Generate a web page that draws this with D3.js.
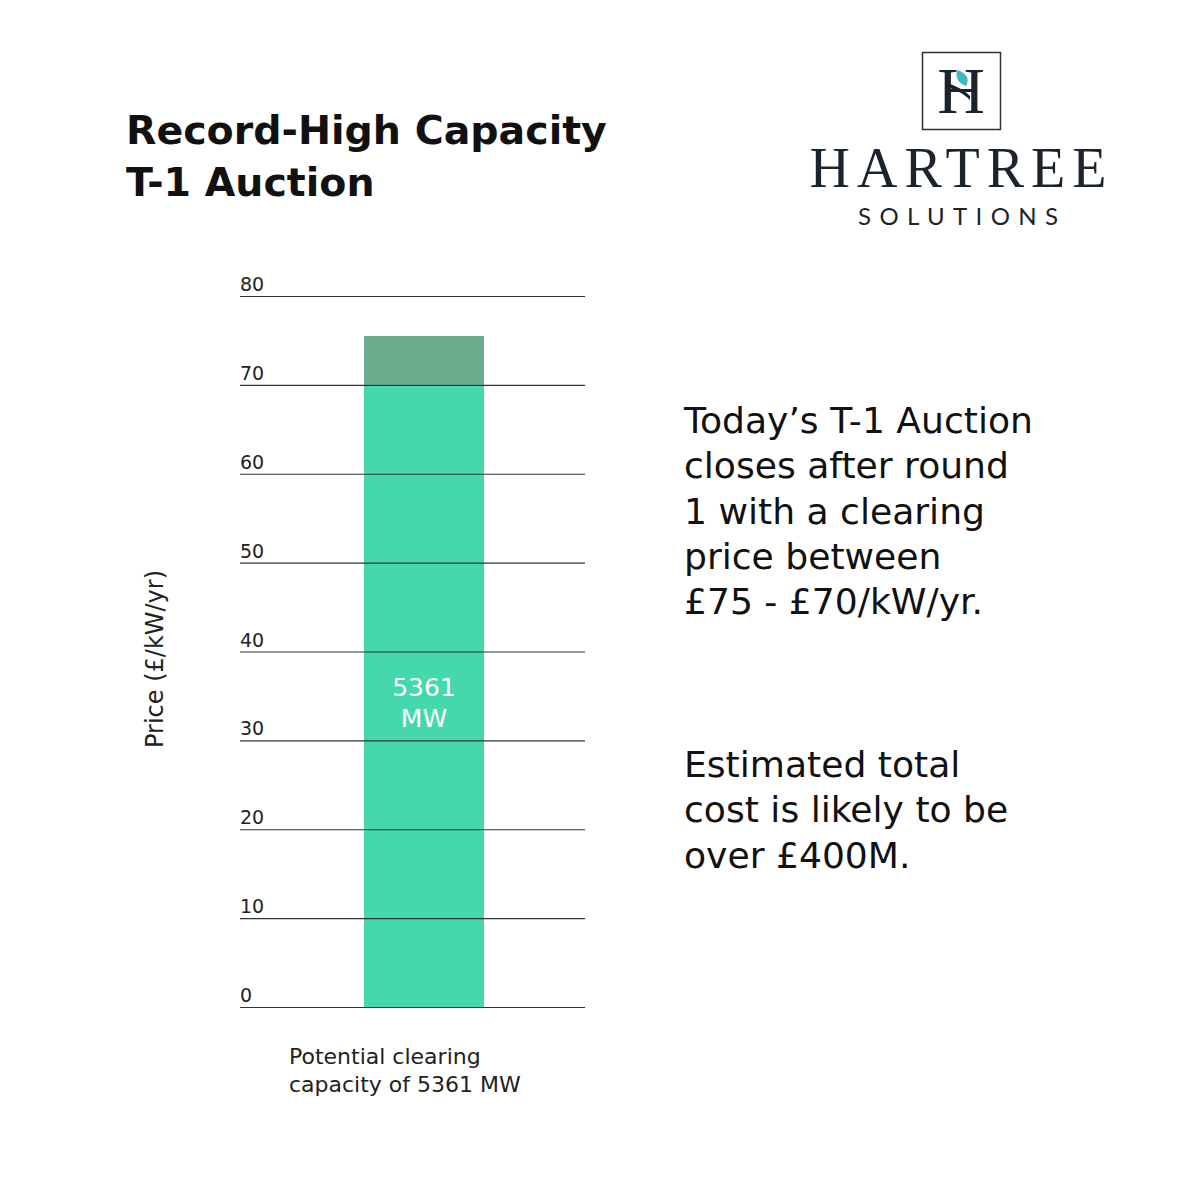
<!DOCTYPE html>
<html>
<head>
<meta charset="utf-8">
<script src="https://cdn.jsdelivr.net/npm/d3@7"></script>
<style>
  body { margin: 0; background: #fff; }
</style>
</head>
<body>
<script>
// chart values
var categories = ["5361 MW"];
var yTicks = [0, 10, 20, 30, 40, 50, 60, 70, 80];
var priceLow = [70];     // lower end of clearing range
var priceHigh = [75.5];  // upper end of clearing range
var barLabel = ["5361", "MW"];
var titleLines = ["Record-High Capacity", "T-1 Auction"];
var noteLines1 = ["Today\u2019s T-1 Auction", "closes after round", "1 with a clearing", "price between", "\u00a375 - \u00a370/kW/yr."];
var noteLines2 = ["Estimated total", "cost is likely to be", "over \u00a3400M."];
var xLabel = ["Potential clearing", "capacity of 5361 MW"];

var width = 1200,
    height = 1200;
var sans = "'DejaVu Sans', 'Open Sans', sans-serif";
var serif = "'Liberation Serif', 'DejaVu Serif', serif";

var svg = d3.select("body")
    .append("svg")
    .attr("width", width)
    .attr("height", height)
    .style("font-family", sans);

var y = d3.scaleLinear()
    .domain([0, 80])
    .range([1007, 296]);

var x = d3.scaleBand()
    .domain(categories)
    .range([364, 484]);

// title
var title = svg.append("g")
    .attr("font-size", 36)
    .attr("font-weight", 700)
    .attr("fill", "#111");
title.selectAll("text")
    .data(titleLines)
    .enter().append("text")
      .attr("x", 126)
      .attr("y", function(d, i) { return 144 + i * 52; })
      .text(function(d) { return d; });
// size the title so its first line is as wide as in the original
title.attr("font-size", 36 * 481 / title.select("text").node().getComputedTextLength());

var grid = svg.append("g");

// bars
var bars = svg.append("g");
bars.selectAll("rect.base")
    .data(categories)
    .enter().append("rect")
      .attr("class", "base")
      .attr("x", function(d) { return x(d); })
      .attr("width", x.bandwidth())
      .attr("y", function(d, i) { return y(priceLow[i]); })
      .attr("height", function(d, i) { return y(0) - y(priceLow[i]); })
      .attr("fill", "#45d8ab");

bars.selectAll("rect.range")
    .data(categories)
    .enter().append("rect")
      .attr("class", "range")
      .attr("x", function(d) { return x(d); })
      .attr("width", x.bandwidth())
      .attr("y", function(d, i) { return y(priceHigh[i]); })
      .attr("height", function(d, i) { return y(priceLow[i]) - y(priceHigh[i]); })
      .attr("fill", "#6aae8f");

// gridlines on top of bar
grid.raise();
grid.selectAll("line")
    .data(yTicks)
    .enter().append("line")
      .attr("x1", 240)
      .attr("x2", 585)
      .attr("y1", function(d) { return y(d) + 0.5; })
      .attr("y2", function(d) { return y(d) + 0.5; })
      .attr("stroke", "#333")
      .attr("stroke-width", 1.2);

grid.selectAll("text")
    .data(yTicks)
    .enter().append("text")
      .attr("x", 240)
      .attr("y", function(d) { return y(d) - 5; })
      .attr("font-size", 19)
      .attr("fill", "#222")
      .text(function(d) { return d; });

// label inside bar
svg.append("g")
    .selectAll("text")
    .data(barLabel)
    .enter().append("text")
      .attr("x", x(categories[0]) + x.bandwidth() / 2)
      .attr("y", function(d, i) { return 696 + i * 31; })
      .attr("text-anchor", "middle")
      .attr("font-size", 25)
      .attr("fill", "#fff")
      .text(function(d) { return d; });

// y label
svg.append("text")
    .attr("transform", "translate(163,659) rotate(-90)")
    .attr("text-anchor", "middle")
    .attr("font-size", 24)
    .attr("fill", "#222")
    .text("Price (\u00a3/kW/yr)");

// x label
var xl = svg.append("g")
    .attr("font-size", 22)
    .attr("fill", "#222");
xl.selectAll("text")
    .data(xLabel)
    .enter().append("text")
      .attr("x", 289)
      .attr("y", function(d, i) { return 1064 + i * 28; })
      .text(function(d) { return d; });

// notes on the right
function notes(lines, y0, fs) {
    var g = svg.append("g")
        .attr("font-size", fs)
        .attr("fill", "#111");
    g.selectAll("text")
        .data(lines)
        .enter().append("text")
          .attr("x", 684)
          .attr("y", function(d, i) { return y0 + i * 45.3; })
          .text(function(d) { return d; });
    return g;
}
var n1 = notes(noteLines1, 433, 34);
var noteSize = 34 * 349 / n1.select("text").node().getComputedTextLength();
n1.attr("font-size", noteSize);
notes(noteLines2, 777, noteSize);

// logo
var logo = svg.append("g");
logo.append("rect")
    .attr("x", 922.5)
    .attr("y", 52.5)
    .attr("width", 78)
    .attr("height", 77)
    .attr("fill", "none")
    .attr("stroke", "#333")
    .attr("stroke-width", 1.5);
logo.append("text")
    .attr("x", 961)
    .attr("y", 113)
    .attr("text-anchor", "middle")
    .style("font-family", serif)
    .attr("font-size", 66)
    .attr("fill", "#1b232c")
    .text("H");
logo.append("path")
    .attr("d", "M957,70 C955,78 959,84 966,86 C970,79 967,73 957,70 Z")
    .attr("fill", "#3fb8c3");
logo.append("path")
    .attr("d", "M946,86 C954,90 962,92 970,100 L970,96 C962,88 954,86 946,82 Z")
    .attr("fill", "#1b232c");
logo.append("text")
    .attr("x", 958)
    .attr("y", 187)
    .attr("text-anchor", "middle")
    .style("font-family", serif)
    .attr("font-size", 56)
    .attr("fill", "#1b232c")
    .attr("textLength", 297)
    .attr("lengthAdjust", "spacing")
    .text("HARTREE");
logo.append("text")
    .attr("x", 958)
    .attr("y", 225)
    .attr("text-anchor", "middle")
    .style("font-family", "'Lato', 'Open Sans', sans-serif")
    .attr("font-size", 24)
    .attr("fill", "#1b232c")
    .attr("textLength", 200)
    .attr("lengthAdjust", "spacing")
    .text("SOLUTIONS");
</script>
</body>
</html>
